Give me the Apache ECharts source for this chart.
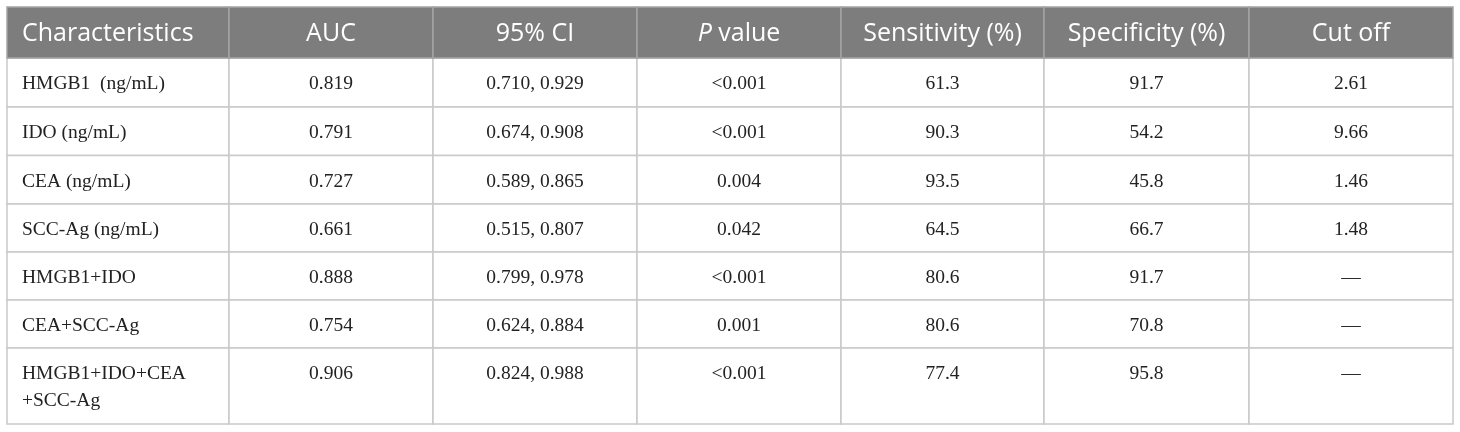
<!DOCTYPE html>
<html>
<head>
<meta charset="utf-8">
<script src="https://cdn.jsdelivr.net/npm/echarts@6/dist/echarts.min.js"></script>
<style>
html,body{margin:0;padding:0;background:#fff;}
#chart{width:1460px;height:432px;}
</style>
</head>
<body>
<div id="chart"></div>
<script>
// ---- data ----
var headers = ['Characteristics', 'AUC', '95% CI', '{i|P} value', 'Sensitivity (%)', 'Specificity (%)', 'Cut off'];
var characteristics = ['HMGB1  (ng/mL)', 'IDO (ng/mL)', 'CEA (ng/mL)', 'SCC-Ag (ng/mL)', 'HMGB1+IDO', 'CEA+SCC-Ag', 'HMGB1+IDO+CEA\n+SCC-Ag'];
var auc = ['0.819', '0.791', '0.727', '0.661', '0.888', '0.754', '0.906'];
var ci95 = ['0.710, 0.929', '0.674, 0.908', '0.589, 0.865', '0.515, 0.807', '0.799, 0.978', '0.624, 0.884', '0.824, 0.988'];
var pValue = ['<0.001', '<0.001', '0.004', '0.042', '<0.001', '0.001', '<0.001'];
var sensitivity = ['61.3', '90.3', '93.5', '64.5', '80.6', '80.6', '77.4'];
var specificity = ['91.7', '54.2', '45.8', '66.7', '91.7', '70.8', '95.8'];
var cutOff = ['2.61', '9.66', '1.46', '1.48', '\u2014', '\u2014', '\u2014'];

// ---- layout (px units on the axes) ----
var colWidths = [222, 204, 204, 204, 203, 205, 204];
var rowHeights = [51, 49, 48.5, 48.5, 48, 48, 48, 76];
function edges(arr){ var e=[0]; for (var i=0;i<arr.length;i++) e.push(e[i]+arr[i]); return e; }
var colEdges = edges(colWidths);
var rowEdges = edges(rowHeights);
var totalW = colEdges[colEdges.length-1];
var totalH = rowEdges[rowEdges.length-1];

var columns = [characteristics, auc, ci95, pValue, sensitivity, specificity, cutOff];
var cells = [];
for (var r = 0; r < rowHeights.length; r++) {
  for (var c = 0; c < colWidths.length; c++) {
    var txt = r === 0 ? headers[c] : columns[c][r-1];
    cells.push({ value: [c, r], text: txt });
  }
}

var chart = echarts.init(document.getElementById('chart'), null, { renderer: 'canvas' });

function renderItem(params, api) {
  var c = api.value(0), r = api.value(1);
  var p0 = api.coord([colEdges[c], rowEdges[r]]);
  var p1 = api.coord([colEdges[c+1], rowEdges[r+1]]);
  var x = p0[0], y = p0[1], w = p1[0]-p0[0], h = p1[1]-p0[1];
  var item = cells[params.dataIndex];
  var isHead = r === 0;
  var children = [{
    type: 'rect',
    shape: { x: x, y: y, width: w, height: h },
    style: {
      fill: isHead ? '#7d7d7d' : '#ffffff',
      stroke: isHead ? '#a4a4a4' : '#c9c9c9',
      lineWidth: 1.5
    },
    z2: isHead ? 1 : 0
  }];
  var left = c === 0;
  children.push({
    type: 'text',
    z2: 5,
    style: isHead ? {
      text: item.text,
      x: left ? x + 15 : x + w/2,
      y: y + h/2 + 1,
      align: left ? 'left' : 'center',
      verticalAlign: 'middle',
      fill: '#ffffff',
      font: '25px "Open Sans"',
      rich: { i: { fontStyle: 'italic', fontSize: 25, fontFamily: 'Open Sans', fill: '#ffffff' } }
    } : {
      text: item.text,
      x: left ? x + 15 : x + w/2,
      y: y + 12.5,
      align: left ? 'left' : 'center',
      verticalAlign: 'top',
      lineHeight: 27,
      fill: '#222222',
      font: '19.5px "Liberation Serif"'
    }
  });
  return { type: 'group', children: children };
}

chart.setOption({
  animation: false,
  backgroundColor: '#ffffff',
  grid: { left: 7, top: 7, width: totalW, height: totalH },
  xAxis: { type: 'value', min: 0, max: totalW, show: false },
  yAxis: { type: 'value', min: 0, max: totalH, inverse: true, show: false },
  series: [{
    type: 'custom',
    renderItem: renderItem,
    clip: false,
    data: cells.map(function(d){ return d.value; })
  }]
});
</script>
</body>
</html>
